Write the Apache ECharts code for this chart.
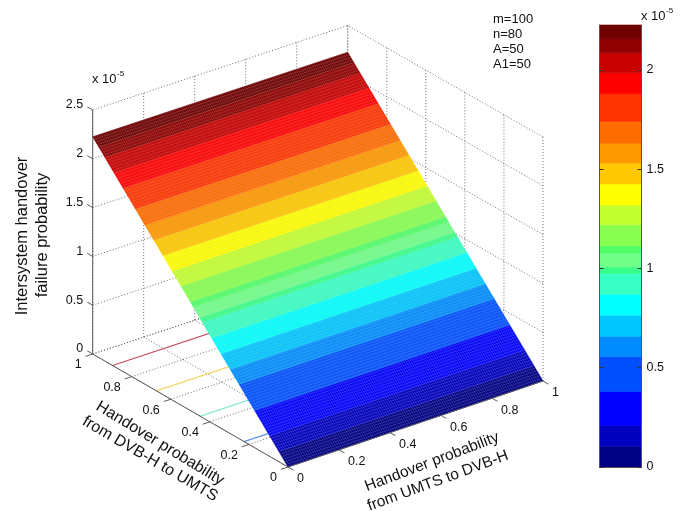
<!DOCTYPE html>
<html>
<head>
<meta charset="utf-8">
<style>
html,body{margin:0;padding:0;background:#fff;}
#c{width:686px;height:511px;filter:blur(0.4px);}
</style>
<script src="https://cdn.jsdelivr.net/npm/echarts@6/dist/echarts.min.js"></script>
</head>
<body>
<div id="c"></div>
<script>
// ---- data ----
const xTicks = [0, 0.2, 0.4, 0.6, 0.8, 1];
const yTicks = [0, 0.2, 0.4, 0.6, 0.8, 1];
const zTicks = [0, 0.5, 1, 1.5, 2, 2.5];
const colorbarTicks = [0, 0.5, 1, 1.5, 2];
const contourLevels = [0.5, 1, 1.5, 2];
const surfaceYEnds = [0, 1];      // DVB-H to UMTS probability at the two ends of the surface
const surfaceZEnds = [0, 2.226];  // failure probability (x 1e-5) at those ends
const bandLevels = [0, .104, .21, .38, .557, .658, .764, .87, .976, 1.007, 1.078, 1.113,
  1.22, 1.32, 1.425, 1.53, 1.63, 1.74, 1.88, 1.985, 2.087, 2.157, 2.226];
const notes = ['m=100', 'n=80', 'A=50', 'A1=50'];

// ---- styles ----
const bandColors = ['#000084','#0000c0','#0000ff','#0050ff','#008cff','#00c6ff','#00ffff','#38ffc4',
  '#38ff88','#70ff88','#50ff68','#88ff50','#c4ff30','#ffff00','#ffc800','#ff9800','#ff6c00','#ff3400',
  '#ff0000','#c80000','#900000','#700000'];
const contourColors = ['#5a94ee', '#78e6b8', '#f4d468', '#c84a58'];
const FONT = '"Liberation Sans", Arial, sans-serif';
const TXT = '#111';
const AXIS = '#5c5c5c';
const GRIDC = '#6e6e6e';

// ---- view of the 3D box on the page ----
const O = [288, 467], EX = [255, -86], EY = [-195.3, -113], EZ = [0, -97.6], BEND = [0, 1.5];
function proj(x, y, z) {
  return [O[0] + x * EX[0] + y * EY[0] + z * EZ[0] + x * y * BEND[0],
          O[1] + x * EX[1] + y * EY[1] + z * EZ[1] + x * y * BEND[1]];
}
const yOfZ = z => surfaceYEnds[0] + (z - surfaceZEnds[0]) / (surfaceZEnds[1] - surfaceZEnds[0]) * (surfaceYEnds[1] - surfaceYEnds[0]);

// box grid lines, each [[x,y,z],[x,y,z]]
const gridSegs = [];
xTicks.forEach(x => { gridSegs.push([[x,0,0],[x,1,0]], [[x,1,0],[x,1,2.5]]); });
yTicks.forEach(y => { gridSegs.push([[0,y,0],[1,y,0]], [[1,y,0],[1,y,2.5]]); });
zTicks.forEach(z => { gridSegs.push([[0,1,z],[1,1,z]], [[1,0,z],[1,1,z]]); });

// solid axes and ticks
const axisSegs = [[[0,1,0],[0,1,2.5]], [[0,0,0],[0,1,0]], [[0,0,0],[1,0,0]]];
const tickLen = 0.028;
zTicks.forEach(z => axisSegs.push([[0,1,z],[0,1+tickLen,z]]));
yTicks.forEach(y => axisSegs.push([[0,y,0],[-tickLen,y,0]]));
xTicks.forEach(x => axisSegs.push([[x,0,0],[x,-tickLen,0]]));

// mesh texture across the surface
const MESH_N = 127;
const meshSegs = [];
for (let i = 1; i < MESH_N; i++) {
  const t = i / MESH_N;
  meshSegs.push([[t,0],[t,1]]);
  meshSegs.push([[0,t],[1,t]]);
}

const segItem = (api, a, b, style) => {
  const p = api.coord(a), q = api.coord(b);
  return { type: 'line', shape: { x1: p[0], y1: p[1], x2: q[0], y2: q[1] }, style };
};
const zOnSurface = y => surfaceZEnds[0] + (y - surfaceYEnds[0]) / (surfaceYEnds[1] - surfaceYEnds[0]) * (surfaceZEnds[1] - surfaceZEnds[0]);

function segSeries(segs, style, z) {
  return { type: 'custom', xAxisIndex: 0, yAxisIndex: 0, silent: true, clip: false, z,
    data: segs.map((_, i) => [i]),
    renderItem: (params, api) => {
      const s = segs[params.dataIndex];
      return segItem(api, proj(...s[0]), proj(...s[1]), style);
    } };
}
function textSeries(items, z) {
  return { type: 'custom', xAxisIndex: 0, yAxisIndex: 0, silent: true, clip: false, z,
    data: items.map((_, i) => [i]),
    renderItem: (params, api) => {
      const t = items[params.dataIndex];
      const p = api.coord(proj(...t.at));
      return { type: 'text', x: p[0] + t.dx, y: p[1] + t.dy,
        style: { text: t.text, fill: TXT, font: '12.5px ' + FONT, textAlign: t.align, textVerticalAlign: 'middle' } };
    } };
}

const tickLabels = [
  ...zTicks.map(v => ({ at: [0,1,v], text: String(v), dx: -9.5, dy: -5, align: 'right' })),
  ...yTicks.map(v => ({ at: [0,v,0], text: String(v), dx: -11, dy: 11, align: 'right' })),
  ...xTicks.map(v => ({ at: [v,0,0], text: String(v), dx: 9, dy: 12, align: 'left' }))
];

const titleText = (text, x, y, rotDeg, size) => ({
  type: 'text', x, y, rotation: rotDeg * Math.PI / 180, silent: true,
  style: { text, fill: TXT, font: size + 'px ' + FONT, textAlign: 'center', textVerticalAlign: 'middle' }
});
const expText = (x, y) => ({
  type: 'group', x, y, silent: true, children: [
    { type: 'text', x: 0, y: 0, style: { text: 'x 10', fill: TXT, font: '13px ' + FONT, textVerticalAlign: 'middle' } },
    { type: 'text', x: 25, y: -5, style: { text: '-5', fill: TXT, font: '8px ' + FONT, textVerticalAlign: 'middle' } }
  ]
});

const chart = echarts.init(document.getElementById('c'), null, { renderer: 'canvas' });
chart.setOption({
  animation: false,
  backgroundColor: '#fff',
  grid: [
    { left: 0, top: 0, width: 686, height: 511 },
    { left: 599.5, top: 25, width: 42, height: 442 }
  ],
  xAxis: [
    { gridIndex: 0, type: 'value', min: 0, max: 686, show: false },
    { gridIndex: 1, type: 'value', min: 0, max: 1, position: 'bottom', z: 6, splitLine: { show: false },
      axisLine: { show: true, lineStyle: { color: '#555' } }, axisTick: { show: false }, axisLabel: { show: false } },
    { gridIndex: 1, type: 'value', min: 0, max: 1, position: 'top', z: 6, splitLine: { show: false },
      axisLine: { show: true, lineStyle: { color: '#555' } }, axisTick: { show: false }, axisLabel: { show: false } }
  ],
  yAxis: [
    { gridIndex: 0, type: 'value', min: 0, max: 511, inverse: true, show: false },
    { gridIndex: 1, type: 'value', min: 0, max: bandLevels[bandLevels.length - 1], position: 'right', z: 6,
      splitLine: { show: false }, axisLine: { show: true, onZero: false, lineStyle: { color: '#555' } },
      axisTick: { show: true, inside: true, length: 4, customValues: colorbarTicks, lineStyle: { color: '#333' } },
      axisLabel: { show: true, margin: 5, customValues: colorbarTicks, color: TXT, fontSize: 12.5, fontFamily: FONT,
        formatter: v => String(v) } },
    { gridIndex: 1, type: 'value', min: 0, max: bandLevels[bandLevels.length - 1], position: 'left', z: 6,
      splitLine: { show: false }, axisLine: { show: true, onZero: false, lineStyle: { color: '#555' } },
      axisTick: { show: true, inside: true, length: 4, customValues: colorbarTicks, lineStyle: { color: '#333' } },
      axisLabel: { show: false } }
  ],
  series: [
    // box grid
    segSeries(gridSegs, { stroke: GRIDC, lineWidth: 1, lineDash: [1, 2], fill: null }, 2),
    // floor contours (drawn from the contour levels)
    { type: 'custom', xAxisIndex: 0, yAxisIndex: 0, silent: true, clip: false, z: 3,
      data: contourLevels.map((_, i) => [i]),
      renderItem: (params, api) => {
        const i = params.dataIndex, y = yOfZ(contourLevels[i]);
        return segItem(api, proj(0, y, 0), proj(1, y, 0), { stroke: contourColors[i], lineWidth: 1.2, fill: null });
      } },
    // surface bands
    { type: 'custom', xAxisIndex: 0, yAxisIndex: 0, silent: true, clip: false, z: 4,
      data: bandColors.map((_, i) => [i]),
      renderItem: (params, api) => {
        const i = params.dataIndex, z0 = bandLevels[i], z1 = bandLevels[i + 1];
        const y0 = yOfZ(z0), y1 = yOfZ(z1);
        const pts = [proj(0, y0, z0), proj(1, y0, z0), proj(1, y1, z1), proj(0, y1, z1)].map(p => api.coord(p));
        return { type: 'polygon', shape: { points: pts },
          style: { fill: bandColors[i], stroke: bandColors[i], lineWidth: 0.5 } };
      } },
    // mesh texture
    { type: 'custom', xAxisIndex: 0, yAxisIndex: 0, silent: true, clip: false, z: 5,
      data: meshSegs.map((_, i) => [i]),
      renderItem: (params, api) => {
        const s = meshSegs[params.dataIndex];
        const a = proj(s[0][0], s[0][1], zOnSurface(s[0][1])), b = proj(s[1][0], s[1][1], zOnSurface(s[1][1]));
        return segItem(api, a, b, { stroke: 'rgba(200,200,200,0.36)', lineWidth: 0.5, fill: null });
      } },
    // axes and ticks
    segSeries(axisSegs, { stroke: AXIS, lineWidth: 1, fill: null }, 6),
    textSeries(tickLabels, 7),
    // colorbar bands
    { type: 'custom', xAxisIndex: 1, yAxisIndex: 1, silent: true, z: 3,
      data: bandColors.map((_, i) => [i]),
      renderItem: (params, api) => {
        const i = params.dataIndex;
        const a = api.coord([0, bandLevels[i + 1]]), b = api.coord([1, bandLevels[i]]);
        return { type: 'rect', shape: { x: a[0], y: a[1], width: b[0] - a[0], height: b[1] - a[1] },
          style: { fill: bandColors[i], stroke: bandColors[i], lineWidth: 0.6 } };
      } }
  ],
  graphic: { elements: [
    titleText('Intersystem handover', 22, 236, 90, 16.5),
    titleText('failure probability', 42, 235, 90, 16.5),
    titleText('Handover probability', 160, 443.5, -31.4, 16),
    titleText('from DVB-H to UMTS', 150, 459, -30.3, 16),
    titleText('Handover probability', 432, 462, 20.8, 15.5),
    titleText('from UMTS to DVB-H', 438, 481, 20.3, 15.5),
    expText(92, 79),
    expText(641, 16),
    ...notes.map((t, i) => ({ type: 'text', x: 493, y: 19 + i * 15, silent: true,
      style: { text: t, fill: TXT, font: '13px ' + FONT, textVerticalAlign: 'middle' } }))
  ] }
});
</script>
</body>
</html>
